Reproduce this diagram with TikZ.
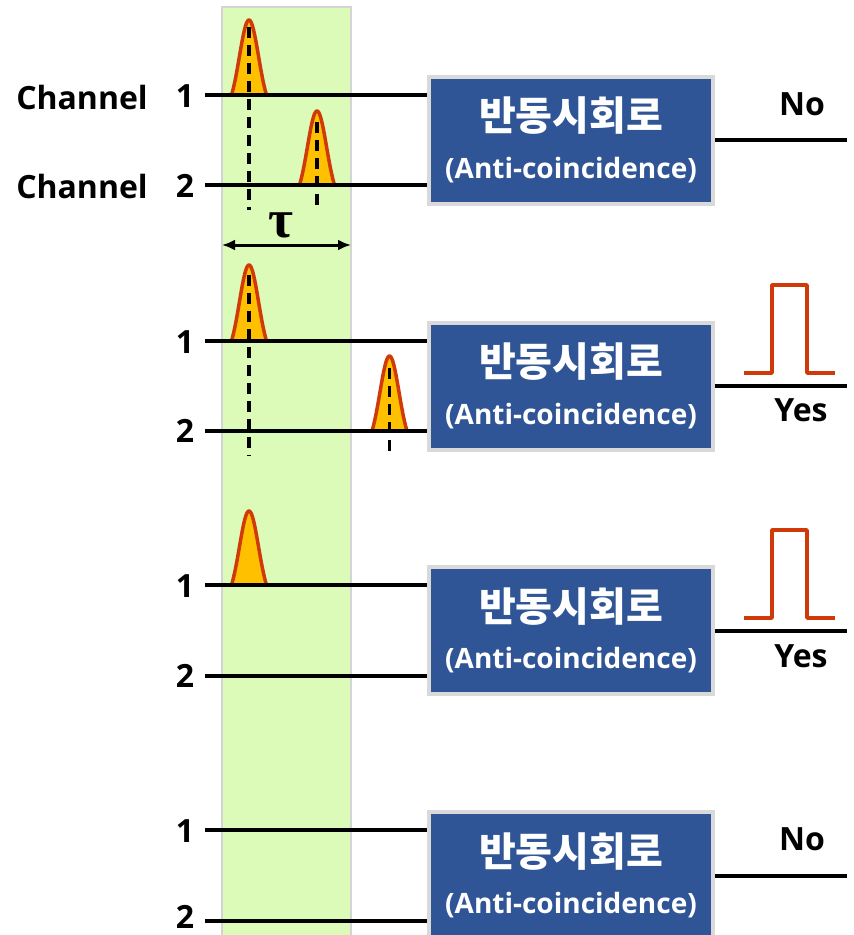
\documentclass[tikz,border=0pt]{standalone}
\usepackage{fontspec}
\setmainfont{Open Sans}
\newfontfamily\krfont{Noto Sans CJK KR}
\newfontfamily\taufont{Liberation Serif}
\usetikzlibrary{arrows.meta}
\definecolor{bandgreen}{HTML}{DCFAB8}
\definecolor{bandgray}{HTML}{D4D4D4}
\definecolor{boxblue}{HTML}{2F5597}
\definecolor{boxgray}{HTML}{D9D9D9}
\definecolor{pulsered}{HTML}{CF3A08}
\definecolor{pulsefill}{HTML}{FFC000}
\tikzset{
  wire/.style={line width=4pt, black},
  circuit/.style={draw=boxgray, line width=4pt, fill=boxblue, minimum width=284pt,
    minimum height=127pt, inner sep=0pt},
  krtext/.style={text=white, font=\krfont\bfseries\fontsize{40}{40}\selectfont, inner sep=0pt},
  entext/.style={text=white, font=\bfseries\fontsize{28}{28}\selectfont, inner sep=0pt},
  chlabel/.style={font=\bfseries\fontsize{32}{32}\selectfont, inner sep=0pt},
  pulse/.style={draw=pulsered, fill=pulsefill, line width=3.5pt, line join=round},
  marker/.style={line width=3.5pt, black, dash pattern=on 11pt off 7pt},
  outpulse/.style={draw=pulsered, line width=3.5pt, line join=round}
}
% input pulse: centre x, baseline y, height
\newcommand\inpulse[3]{%
  \filldraw[pulse] plot[domain=-17.5:17.5, samples=41, smooth]
    ({#1+\x},{#2-#3*(exp(-(\x/13.5)^2)-0.186)/0.814}) -- cycle;}
\begin{document}
\begin{tikzpicture}[x=1pt,y=-1pt]
\useasboundingbox (0,0) rectangle (854,935);
\clip (0,0) rectangle (854,935);

% time window
\filldraw[fill=bandgreen, draw=bandgray, line width=2pt] (222,7) rectangle (351,945);

% input pulses
\inpulse{249}{95}{75}
\inpulse{317}{185}{74}
\inpulse{249}{341}{76}
\inpulse{389.5}{431}{75}
\inpulse{249}{585}{74}

% channel pairs, circuits and outputs (last field: label y of channel 2)
\foreach \g/\ya/\yb/\yl in {1/95/185/186, 2/341/431/431, 3/585/676/676, 4/830/921/917} {
  \coordinate (a\g) at (205,\ya);
  \coordinate (b\g) at (205,\yb);
  \node[circuit] (box\g) at (571,{(\ya+\yb)/2}) {};
  \node[krtext] (kr\g) at ([yshift=24pt]box\g.center) {반동시회로};
  \node[entext] (en\g) at ([yshift=-30pt]box\g.center) {(Anti-coincidence)};
  \draw[wire] (a\g) -- (a\g -| box\g.west);
  \draw[wire] (b\g) -- (b\g -| box\g.west);
  \node[chlabel] (one\g) at (185,{\ya+1}) {1};
  \node[chlabel] (two\g) at (185,\yl) {2};
  \coordinate (out\g) at (847,{(\ya+\yb)/2});
  \draw[wire] (box\g.east) -- (out\g);
}

\node[chlabel] (chA) at (82,97) {Channel};
\node[chlabel] (chB) at (82,186) {Channel};

% output labels
\node[chlabel] (no1) at (802,104) {No};
\node[chlabel] (yes2) at (801,410) {Yes};
\node[chlabel] (yes3) at (801,656) {Yes};
\node[chlabel] (no4) at (802,839) {No};

% output pulses
\draw[outpulse] (744,373) -| (772,285) -| (807,373) -- (835,373);
\draw[outpulse] (744,618) -| (772,530) -| (807,618) -- (835,618);

% arrival-time markers
\draw[marker] (249,27) -- (249,210);
\draw[marker] (317,122) -- (317,210);
\draw[marker] (249,275) -- (249,456);
\draw[marker] (389.5,368) -- (389.5,456);

% coincidence window width
\coordinate (tauL) at (222,245);
\coordinate (tauR) at (351,245);
\draw[line width=3pt, {Latex[length=13pt,width=11pt]}-{Latex[length=13pt,width=11pt]}] (tauL) -- (tauR);
\node[inner sep=0pt, font=\taufont\bfseries\fontsize{54}{54}\selectfont] (tau) at (281,225) {τ};
\end{tikzpicture}
\end{document}
